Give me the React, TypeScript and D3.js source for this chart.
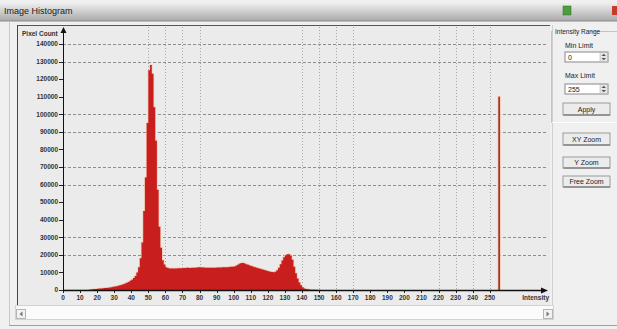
import React from 'react';
import * as d3 from 'd3';

// pixel counts per intensity, 0..150 (everything above is empty except the 255 spike)
const lowCounts = [
  0, 0, 0, 0, 0, 0, 0, 0, 0, 0, 0, 0, 0, 0, 0,
  150, 300, 400, 500, 600, 700, 800, 900, 1000, 1100, 1200, 1300, 1400, 1600, 1800,
  2000, 2200, 2400, 2700, 3000, 3300, 3700, 4100, 4600, 5200, 5900, 6800, 8000, 10000, 13000,
  18000, 27000, 45000, 64000, 95000, 125000, 128000, 123000, 104000, 85000, 57000, 36000, 24000, 17000, 14500,
  13000, 12500, 12300, 12200, 12200, 12300, 12300, 12400, 12400, 12400, 12500, 12500, 12600, 12600, 12500,
  12600, 12700, 12700, 12800, 12900, 12900, 12800, 12800, 12700, 12700, 12700, 12600, 12600, 12700, 12700,
  12800, 12800, 12800, 12900, 12900, 13000, 13000, 13100, 13200, 13300, 13400, 13800, 14400, 15000, 15300,
  15400, 15100, 14700, 14300, 14000, 13700, 13300, 13000, 12700, 12400, 12100, 11800, 11500, 11200, 10900,
  10600, 10400, 10200, 10100, 10400, 11200, 12600, 14600, 16800, 18600, 19800, 20300, 20400, 19600, 17200,
  13200, 9500, 6500, 4300, 2700, 1500, 900, 600, 400, 300, 200, 150, 100, 100, 50,
  50,
];
const spikeBins = [255];
const spikeCounts = [110000];

const xTicks = [0, 10, 20, 30, 40, 50, 60, 70, 80, 90, 100, 110, 120, 130, 140, 150, 160, 170, 180, 190, 200, 210, 220, 230, 240, 250];
const yTicks = [0, 10000, 20000, 30000, 40000, 50000, 60000, 70000, 80000, 90000, 100000, 110000, 120000, 130000, 140000];
const hGrid = [20000, 30000, 60000, 70000, 90000, 100000, 130000, 140000];
const vGrid = [50, 60, 70, 80, 140, 150, 160, 170, 220, 230, 240, 250];

const font = '"Liberation Sans", Arial, sans-serif';

const App = () => {
  const W = 617, H = 329;
  const x = d3.scaleLinear().domain([0, 256]).range([63, 500]);
  const y = d3.scaleLinear().domain([0, 140000]).range([290, 44]);

  // step area over the low range, closed back to zero after the last bin
  const pts = lowCounts.map((c, i) => ({ i, c })).concat([{ i: lowCounts.length, c: 0 }]);
  const area = d3.area<{ i: number; c: number }>()
    .x(d => x(d.i))
    .y0(y(0))
    .y1(d => y(d.c))
    .curve(d3.curveStepAfter);
  const areaPath = area(pts) || '';

  const spinBox = (yy, val) => (
    <g>
      <rect x={565} y={yy} width={43} height={10} fill="#fff" stroke="#888" />
      <text x={568} y={yy + 7.5} fontSize={7} fontFamily={font} fill="#222">{val}</text>
      <rect x={600} y={yy + 0.5} width={7.5} height={9} fill="#e6e6e6" stroke="#aaa" strokeWidth={0.5} />
      <path d={`M601.5,${yy + 4} L603.75,${yy + 1.8} L606,${yy + 4} Z M601.5,${yy + 6} L603.75,${yy + 8.2} L606,${yy + 6} Z`} fill="#555" />
    </g>
  );

  const button = (yy, label, h = 11) => (
    <g>
      <rect x={563} y={yy} width={47} height={h} fill="#ececec" stroke="#9a9a9a" />
      <line x1={563.5} y1={yy + h} x2={610} y2={yy + h} stroke="#666" />
      <text x={586.5} y={yy + h / 2 + 2.5} fontSize={7} textAnchor="middle" fontFamily={font} fill="#222">{label}</text>
    </g>
  );

  return (
    <div style={{ position: 'fixed', left: 0, top: 0 }}>
      <svg width={W} height={H} style={{ display: 'block' }}>
        <defs>
          <linearGradient id="tb" x1="0" y1="0" x2="0" y2="1">
            <stop offset="0" stopColor="#f2f2f2" />
            <stop offset="1" stopColor="#a9a9a9" />
          </linearGradient>
        </defs>
        <rect width={W} height={H} fill="#f0f0f0" />

        {/* title bar */}
        <rect x={0} y={2} width={W} height={19} fill="url(#tb)" />
        <line x1={0} y1={21} x2={W} y2={21} stroke="#8a8a8a" />
        <text x={4} y={14} fontSize={9} fontFamily={font} fill="#1a1a1a">Image Histogram</text>
        <rect x={563} y={6} width={8} height={9} fill="#4f9d3f" stroke="#2f6d25" strokeWidth={0.5} />
        <rect x={612} y={6} width={6} height={9} fill="#c83a2a" />

        {/* window frame */}
        <line x1={9.5} y1={22} x2={9.5} y2={325} stroke="#c8c8c8" />
        <line x1={9} y1={325.5} x2={W} y2={325.5} stroke="#a0a0a0" />

        {/* chart panel */}
        <rect x={18} y={25} width={532} height={280} fill="#ebebeb" />
        <line x1={18} y1={25.5} x2={550} y2={25.5} stroke="#555" />
        <line x1={17.5} y1={25} x2={17.5} y2={305} stroke="#444" />
        <line x1={552.5} y1={25} x2={552.5} y2={305} stroke="#d0d0d0" />

        {/* grid */}
        {hGrid.map(v => (
          <line key={'h' + v} x1={63} x2={548} y1={Math.round(y(v)) + 0.5} y2={Math.round(y(v)) + 0.5}
            stroke="#8e8e8e" strokeDasharray="3,2" />
        ))}
        {vGrid.map(v => (
          <line key={'v' + v} x1={Math.round(x(v)) + 0.5} x2={Math.round(x(v)) + 0.5} y1={27} y2={290}
            stroke="#a5a5a5" strokeDasharray="1,2" />
        ))}

        {/* histogram */}
        <path d={areaPath} fill="#f3c7ad" stroke="#f3c7ad" strokeWidth={1.4} strokeLinejoin="round" />
        <path d={areaPath} fill="#c81e1e" />
        {spikeBins.map((b, k) => (
          <g key={'s' + b}>
            <rect x={x(b) - 0.7} y={y(spikeCounts[k]) - 0.7} width={x(b + 1) - x(b) + 1.4}
              height={y(0) - y(spikeCounts[k]) + 0.7} fill="#f3c7ad" />
            <rect x={x(b)} y={y(spikeCounts[k])} width={x(b + 1) - x(b)}
              height={y(0) - y(spikeCounts[k])} fill="#a8342a" />
          </g>
        ))}

        {/* y axis */}
        <line x1={63.5} y1={29} x2={63.5} y2={291} stroke="#111" />
        <path d="M60.5,33 L63.5,27 L66.5,33 Z" fill="#111" />
        {yTicks.map(v => (
          <g key={'yt' + v}>
            <line x1={59} x2={63} y1={Math.round(y(v)) + 0.5} y2={Math.round(y(v)) + 0.5} stroke="#222" />
            <text x={58} y={y(v) + 2.3} fontSize={6.5} fontWeight="bold" textAnchor="end"
              fontFamily={font} fill="#333">{v}</text>
          </g>
        ))}
        <text x={22} y={36} fontSize={6.5} fontWeight="bold" fontFamily={font} fill="#333">Pixel Count</text>

        {/* x axis */}
        <line x1={63} y1={290.5} x2={543} y2={290.5} stroke="#111" strokeWidth={1.6} />
        <path d="M541,287.5 L548,290.5 L541,293.5 Z" fill="#111" />
        {xTicks.map(v => (
          <g key={'xt' + v}>
            <line x1={Math.round(x(v)) + 0.5} x2={Math.round(x(v)) + 0.5} y1={291} y2={293} stroke="#222" />
            <text x={x(v)} y={300} fontSize={6.5} fontWeight="bold" textAnchor="middle"
              fontFamily={font} fill="#333">{v}</text>
          </g>
        ))}
        <text x={549} y={300} fontSize={6.5} fontWeight="bold" textAnchor="end" fontFamily={font} fill="#333">Intensity</text>

        {/* scrollbar */}
        <rect x={15.5} y={305.5} width={538} height={14} fill="#fbfbfb" stroke="#d2d2d2" />
        <rect x={16.5} y={309.5} width={9} height={9} fill="#f2f2f2" stroke="#b5b5b5" />
        <path d="M22.5,311.5 L19.5,314 L22.5,316.5 Z" fill="#777" />
        <rect x={543.5} y={309.5} width={9} height={9} fill="#f2f2f2" stroke="#b5b5b5" />
        <path d="M546.5,311.5 L549.5,314 L546.5,316.5 Z" fill="#777" />

        {/* right controls */}
        <rect x={551.5} y={31.5} width={70} height={91} fill="none" stroke="#c4c4c4" />
        <line x1={552} y1={122.5} x2={W} y2={122.5} stroke="#fff" />
        <rect x={553} y={27} width={37} height={8} fill="#f0f0f0" />
        <text x={555} y={33.5} fontSize={6.5} fontFamily={font} fill="#222">Intensity Range</text>
        <text x={565} y={48} fontSize={7} fontFamily={font} fill="#222">Min Limit</text>
        {spinBox(52, '0')}
        <text x={565} y={78} fontSize={7} fontFamily={font} fill="#222">Max Limit</text>
        {spinBox(84, '255')}
        {button(103, 'Apply', 12)}
        {button(133, 'XY Zoom', 12)}
        {button(157, 'Y Zoom', 11)}
        {button(176, 'Free Zoom', 11)}
      </svg>
    </div>
  );
};

export default App;
